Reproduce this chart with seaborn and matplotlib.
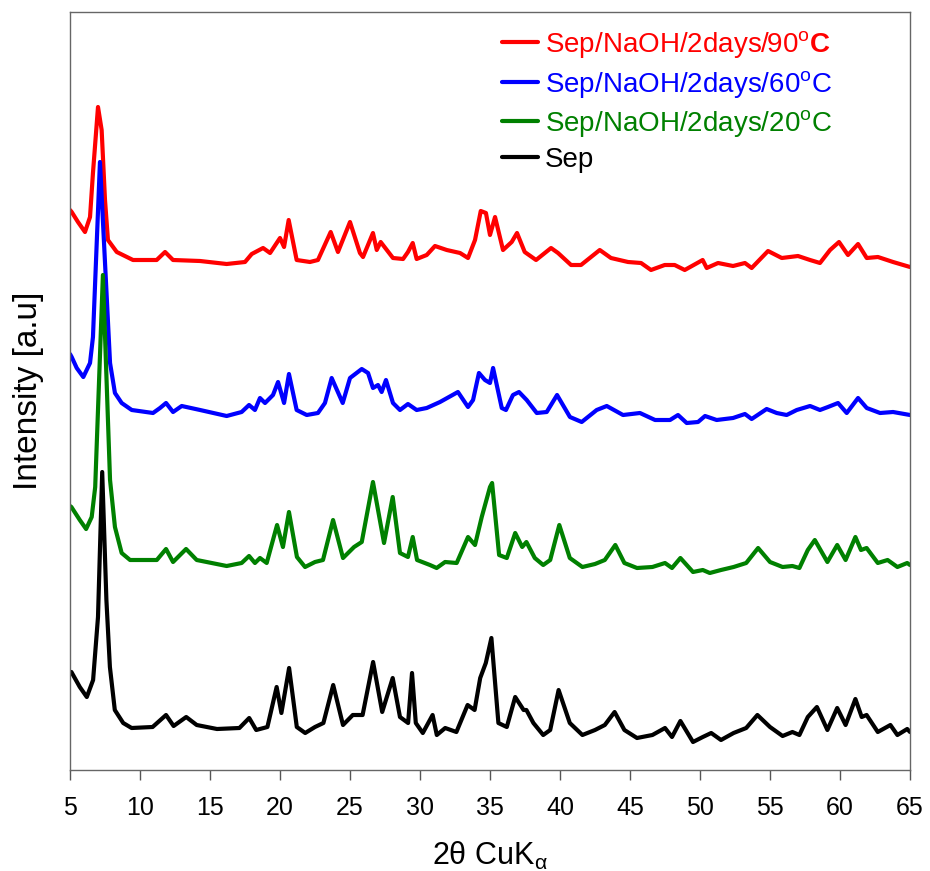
import numpy as np
import pandas as pd
import matplotlib
matplotlib.use("Agg")
import matplotlib.pyplot as plt
import seaborn as sns

# 2theta / intensity pairs (each pattern already stacked)
sep_x = [5.0, 5.1, 5.7, 6.2, 6.65, 7.0, 7.3, 7.6, 7.85, 8.2, 8.8, 9.4, 10.9, 11.86, 12.4, 13.3, 14.05,
         15.5, 17.1, 17.8, 18.3, 19.1, 19.76, 20.1, 20.65, 21.2, 21.8, 22.5, 23.1, 23.8, 24.5, 25.2,
         25.9, 26.65, 27.3, 28.05, 28.57, 29.15, 29.43, 29.7, 30.2, 30.9, 31.2, 31.8, 32.6, 33.4,
         33.9, 34.3, 34.7, 35.1, 35.6, 36.2, 36.8, 37.4, 37.6, 38.1, 38.8, 39.3, 39.9, 40.7, 41.6,
         42.5, 43.2, 43.9, 44.6, 45.5, 46.6, 47.5, 48.0, 48.6, 49.5, 50.2, 50.8, 51.5, 52.4, 53.3,
         54.1, 55.0, 55.9, 56.6, 57.1, 57.7, 58.35, 59.1, 59.8, 60.4, 61.1, 61.55, 61.9, 62.7,
         63.6, 64.1, 64.8, 65.0]
sep_y = [98, 98, 83, 73, 90, 153, 298, 170, 103, 60, 47, 42, 43, 55, 44, 53, 45,
         41, 42, 52, 40, 43, 83, 57, 102, 43, 37, 43, 47, 85, 45, 55,
         55, 108, 58, 92, 53, 47, 97, 47, 37, 55, 35, 42, 38, 65,
         60, 92, 107, 132, 47, 43, 73, 60, 60, 47, 35, 40, 80, 47, 35,
         40, 45, 58, 40, 32, 35, 42, 33, 49, 28, 33, 37, 30, 37, 42,
         55, 43, 34, 38, 35, 53, 63, 40, 62, 45, 71, 53, 55, 38,
         45, 35, 41, 38]

d20_x = [5.0, 5.1, 5.7, 6.15, 6.55, 6.8, 7.35, 7.86, 8.21, 8.69, 9.29, 11.2, 11.86, 12.36, 13.29,
         14.05, 16.19, 17.26, 17.79, 18.21, 18.57, 19.05, 19.79, 20.21, 20.64, 21.21, 21.79, 22.5,
         23.07, 23.79, 24.5, 25.29, 25.84, 26.64, 27.43, 28.05, 28.57, 29.14, 29.48, 29.79, 30.71,
         31.19, 31.79, 32.62, 33.43, 33.93, 34.41, 35.0, 35.15, 35.65, 36.2, 36.8, 37.3, 37.6, 38.2,
         38.8, 39.3, 39.95, 40.7, 41.6, 42.5, 43.2, 43.95, 44.6, 45.5, 46.6, 47.5, 48.0, 48.6, 49.5,
         50.2, 50.7, 51.5, 52.4, 53.3, 54.15, 55.0, 55.9, 56.6, 57.1, 57.7, 58.2, 59.1, 59.8, 60.4,
         61.1, 61.5, 61.9, 62.7, 63.4, 64.1, 64.8, 65.0]
d20_y = [264, 263, 250, 241, 253, 283, 495, 290, 243, 217, 210, 210, 221, 208, 221,
         210, 204, 207, 214, 207, 212, 207, 245, 223, 258, 213, 203, 208,
         210, 250, 212, 223, 228, 288, 227, 273, 217, 213, 233, 210, 205,
         202, 208, 207, 233, 225, 253, 283, 287, 215, 212, 237, 223, 228, 212,
         205, 210, 245, 212, 203, 206, 210, 225, 207, 202, 203, 207, 202, 212, 198,
         200, 197, 200, 203, 207, 222, 208, 203, 204, 202, 220, 230, 208, 225, 210,
         233, 220, 222, 207, 210, 203, 207, 205]

d60_x = [5.0, 5.12, 5.48, 5.95, 6.43, 6.64, 7.14, 7.86, 8.21, 8.69, 9.41, 10.93, 11.43, 11.86,
         12.36, 12.98, 14.29, 16.19, 17.26, 17.79, 18.21, 18.57, 18.93, 19.5, 19.86, 20.29, 20.64,
         21.19, 21.91, 22.71, 23.21, 23.69, 24.48, 25.0, 25.84, 26.29, 26.64, 27.0, 27.26, 27.57,
         28.07, 28.57, 29.14, 29.76, 30.48, 31.43, 32.71, 33.43, 33.79, 34.21, 34.64, 35.0, 35.22,
         35.84, 36.14, 36.64, 37.07, 37.62, 38.34, 39.05, 39.79, 40.71, 41.55, 42.62, 43.34, 44.5,
         45.71, 46.79, 47.86, 48.43, 49.05, 49.86, 50.36, 51.19, 52.36, 53.21, 53.69, 54.76, 55.48,
         56.19, 56.91, 57.86, 58.57, 59.14, 59.86, 60.48, 61.29, 61.91, 62.86, 63.79, 65.0]
d60_y = [416, 413, 402, 393, 407, 433, 608, 407, 377, 367, 360, 357, 362, 367,
         358, 364, 360, 354, 358, 365, 360, 372, 367, 375, 388, 367, 396,
         360, 355, 357, 367, 392, 367, 392, 401, 397, 382, 385, 378, 390,
         367, 360, 366, 360, 362, 368, 378, 363, 370, 397, 390, 387, 402,
         362, 360, 375, 378, 370, 357, 358, 375, 353, 348, 360, 364, 355,
         357, 350, 350, 355, 347, 348, 354, 350, 352, 356, 351, 361, 357,
         355, 360, 364, 360, 363, 367, 357, 372, 362, 357, 358, 355]

d90_x = [5.0, 5.12, 5.57, 6.07, 6.43, 6.64, 7.0, 7.26, 7.5, 7.71, 8.34, 9.5, 11.19, 11.79, 12.36,
         14.29, 16.19, 17.5, 17.98, 18.79, 19.29, 20.0, 20.29, 20.62, 21.19, 22.14, 22.71, 23.62,
         24.14, 25.0, 25.71, 25.93, 26.64, 26.91, 27.19, 28.07, 28.79, 29.14, 29.48, 29.76, 30.48,
         31.07, 31.91, 32.86, 33.43, 33.93, 34.34, 34.71, 35.0, 35.36, 35.93, 36.55, 36.93, 37.48,
         38.29, 39.36, 39.86, 40.79, 41.5, 42.84, 43.64, 44.86, 45.79, 46.5, 47.48, 48.19, 48.91,
         50.19, 50.48, 51.29, 52.36, 53.21, 53.69, 54.86, 55.84, 57.0, 57.86, 58.57, 59.29, 59.93,
         60.57, 61.29, 61.91, 62.71, 63.79, 65.0]
d90_y = [560, 558, 548, 538, 553, 597, 663, 640, 570, 530, 518, 510, 510, 518, 510,
         509, 506, 508, 516, 522, 517, 532, 523, 550, 510, 508, 510, 538,
         518, 548, 517, 513, 537, 520, 528, 512, 511, 518, 527, 511, 515,
         524, 520, 517, 512, 530, 559, 557, 535, 553, 520, 528, 537, 518,
         510, 522, 517, 505, 505, 520, 512, 508, 507, 500, 505, 505, 500,
         510, 502, 507, 504, 507, 502, 519, 512, 514, 510, 507, 520, 528,
         515, 526, 512, 513, 508, 503]

labels = ["Sep/NaOH/2days/90$^{\\mathrm{o}}$$\\mathbf{C}$",
          "Sep/NaOH/2days/60$^{\\mathrm{o}}$C",
          "Sep/NaOH/2days/20$^{\\mathrm{o}}$C",
          "Sep"]
colors = ["#ff0000", "#0000ff", "#008000", "#000000"]

series = [(d90_x, d90_y), (d60_x, d60_y), (d20_x, d20_y), (sep_x, sep_y)]
frames = []
for lab, (xs, ys) in zip(labels, series):
    frames.append(pd.DataFrame({"two_theta": xs, "intensity": ys, "sample": lab}))
df = pd.concat(frames, ignore_index=True)

sns.set_style("ticks")
plt.rcParams["font.family"] = ["Liberation Sans", "DejaVu Sans"]
plt.rcParams["mathtext.fontset"] = "custom"
plt.rcParams["mathtext.rm"] = "Liberation Sans"
plt.rcParams["mathtext.bf"] = "Liberation Sans:bold"
plt.rcParams["mathtext.it"] = "Liberation Sans"

fig = plt.figure(figsize=(9.3, 8.71), dpi=100)
ax = fig.add_axes([70 / 930, 101 / 871, 840 / 930, 758 / 871])

sns.lineplot(data=df, x="two_theta", y="intensity", hue="sample", hue_order=labels,
             palette=colors, linewidth=3.0, ax=ax, estimator=None, sort=False, legend=False)

ax.set_xlim(5, 65)
ax.set_ylim(0, 758)
ax.set_xticks(np.arange(5, 66, 5))
ax.set_yticks([])
ax.tick_params(axis="x", direction="out", length=7, width=1, color="#555555",
               labelsize=18, labelcolor="black", pad=12)
for s in ax.spines.values():
    s.set_color("#666666")
    s.set_linewidth(1.0)

ax.set_xlabel("2θ CuK$_{\\alpha}$", fontsize=22, labelpad=14, color="black")
ax.set_ylabel("Intensity [a.u]", fontsize=24, labelpad=19, color="black")

handles = [plt.Line2D([], [], color=c, linewidth=3.0) for c in colors]
leg = ax.legend(handles, labels, loc="upper left", bbox_to_anchor=(0.501, 0.992),
                frameon=False, fontsize=20, handlelength=1.3, handletextpad=0.25,
                labelspacing=0.3, borderaxespad=0)
for t, c in zip(leg.get_texts(), colors):
    t.set_color(c)

fig.savefig("out.png", dpi=100)
